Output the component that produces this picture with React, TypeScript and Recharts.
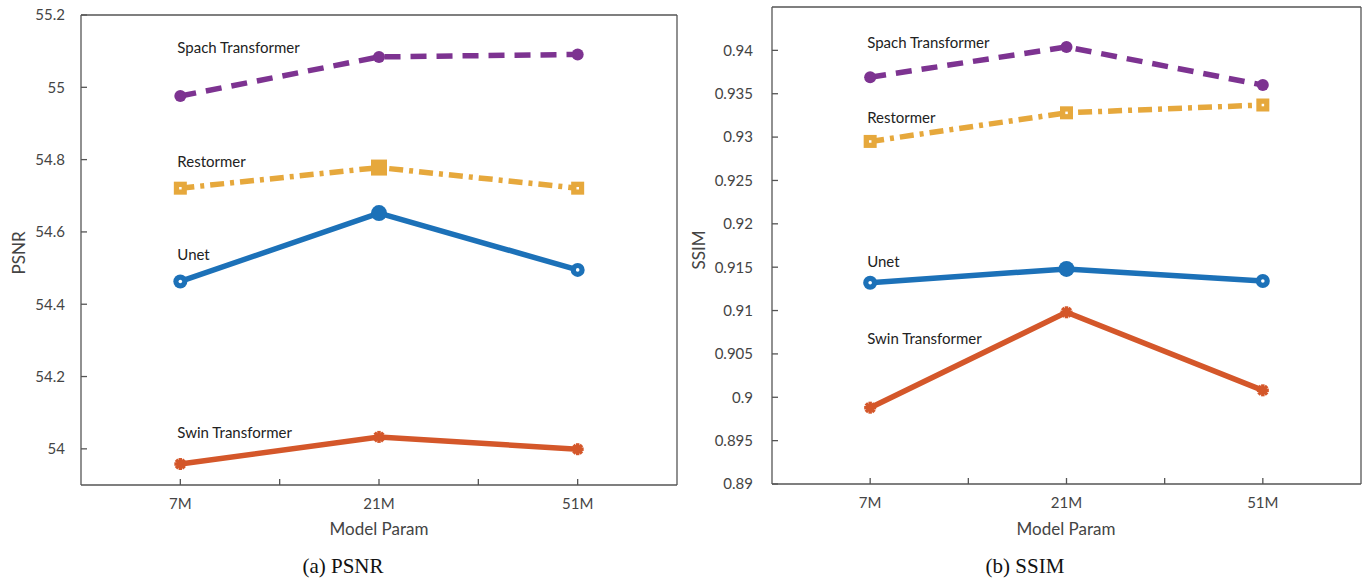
import { LineChart, Line, XAxis, YAxis, ReferenceDot } from 'recharts'

const params = ['7M', '21M', '51M']
const seriesNames = ['Spach Transformer', 'Restormer', 'Unet', 'Swin Transformer']

const psnrSpach = [54.976, 55.084, 55.091]
const psnrRestormer = [54.721, 54.778, 54.721]
const psnrUnet = [54.463, 54.652, 54.495]
const psnrSwin = [53.958, 54.033, 53.999]
const psnrTicks = [54, 54.2, 54.4, 54.6, 54.8, 55, 55.2]
const psnrLabelY = [55.109, 54.793, 54.536, 54.044]

const ssimSpach = [0.9369, 0.9404, 0.936]
const ssimRestormer = [0.9295, 0.9328, 0.9337]
const ssimUnet = [0.9132, 0.9148, 0.9134]
const ssimSwin = [0.8988, 0.9098, 0.9008]
const ssimTicks = [0.89, 0.895, 0.9, 0.905, 0.91, 0.915, 0.92, 0.925, 0.93, 0.935, 0.94]
const ssimLabelY = [0.94085, 0.9322, 0.91558, 0.90673]

const xTicks = [1, 2, 3, 4, 5]

const PURPLE = '#7d3391'
const YELLOW = '#e6a83c'
const BLUE = '#1c71b8'
const RED = '#d4572a'
const AXIS = '#555'
const FONT = 'Lato, "Open Sans", sans-serif'

// x position of each category: 1, 3, 5 on a 0..6 axis
const buildRows = (a: number[], b: number[], c: number[], d: number[]) =>
  params.map((p, i) => ({ x: i * 2 + 1, param: p, spach: a[i], restormer: b[i], unet: c[i], swin: d[i] }))

const psnrRows = buildRows(psnrSpach, psnrRestormer, psnrUnet, psnrSwin)
const ssimRows = buildRows(ssimSpach, ssimRestormer, ssimUnet, ssimSwin)

const xLabel = (v: number) => (v % 2 === 1 ? params[(v - 1) / 2] : '')
const yLabel = (v: number) => String(Number(v.toFixed(3)))

function circleDot(color: string) {
  return (p: any) => <circle key={`c${p.index}`} cx={p.cx} cy={p.cy} r={6} fill={color} />
}

function ringDot(color: string, solidIndex: number) {
  return (p: any) =>
    p.index === solidIndex ? (
      <circle key={`r${p.index}`} cx={p.cx} cy={p.cy} r={8} fill={color} />
    ) : (
      <g key={`r${p.index}`}>
        <circle cx={p.cx} cy={p.cy} r={7} fill={color} />
        <circle cx={p.cx} cy={p.cy} r={1.8} fill="#fff" />
      </g>
    )
}

function squareDot(color: string, solidIndex: number) {
  return (p: any) =>
    p.index === solidIndex ? (
      <rect key={`s${p.index}`} x={p.cx - 8} y={p.cy - 8} width={16} height={16} fill={color} />
    ) : (
      <g key={`s${p.index}`}>
        <rect x={p.cx - 6.5} y={p.cy - 6.5} width={13} height={13} fill={color} />
        <rect x={p.cx - 1.2} y={p.cy - 1.2} width={2.5} height={2.5} fill="#fff" />
      </g>
    )
}

function starDot(color: string) {
  return (p: any) => (
    <g key={`a${p.index}`} stroke={color} strokeWidth={3.5}>
      <line x1={p.cx - 6} y1={p.cy} x2={p.cx + 6} y2={p.cy} />
      <line x1={p.cx} y1={p.cy - 6} x2={p.cx} y2={p.cy + 6} />
      <line x1={p.cx - 4.3} y1={p.cy - 4.3} x2={p.cx + 4.3} y2={p.cy + 4.3} />
      <line x1={p.cx - 4.3} y1={p.cy + 4.3} x2={p.cx + 4.3} y2={p.cy - 4.3} />
    </g>
  )
}

type PanelProps = {
  rows: any[]
  ticks: number[]
  domain: [number, number]
  labelY: number[]
  restormerSolid: number
  width: number
  axisWidth: number
  top: number
  bottom: number
  right: number
  tickMargin: number
}

function Panel(props: PanelProps) {
  const { rows, ticks, domain, labelY, restormerSolid, width, axisWidth, top, bottom, right, tickMargin } = props
  const keys = ['spach', 'restormer', 'unet', 'swin']
  return (
    <LineChart width={width} height={582} data={rows} margin={{ top, right, bottom, left: 0 }}>
      <XAxis
        xAxisId="b"
        dataKey="x"
        type="number"
        domain={[0, 6]}
        ticks={xTicks}
        tickFormatter={xLabel}
        tickSize={-6}
        tickMargin={19}
        height={30}
        stroke={AXIS}
        strokeWidth={1.3}
        tick={{ fill: '#444', fontSize: 15, fontFamily: FONT }}
      />
      <XAxis
        xAxisId="t"
        orientation="top"
        dataKey="x"
        type="number"
        domain={[0, 6]}
        ticks={xTicks}
        tick={false}
        tickSize={-6}
        height={1}
        stroke={AXIS}
        strokeWidth={1.3}
      />
      <YAxis
        yAxisId="l"
        type="number"
        domain={domain}
        ticks={ticks}
        tickFormatter={yLabel}
        tickSize={-6}
        tickMargin={tickMargin}
        width={axisWidth}
        stroke={AXIS}
        strokeWidth={1.3}
        interval={0}
        tick={{ fill: '#444', fontSize: 15, fontFamily: FONT }}
      />
      <YAxis
        yAxisId="r"
        orientation="right"
        type="number"
        domain={domain}
        ticks={ticks}
        tick={false}
        tickSize={-6}
        width={1}
        stroke={AXIS}
        strokeWidth={1.3}
      />
      <Line
        xAxisId="b"
        yAxisId="l"
        dataKey="swin"
        stroke={RED}
        strokeWidth={5.5}
        dot={starDot(RED)}
        isAnimationActive={false}
      />
      <Line
        xAxisId="b"
        yAxisId="l"
        dataKey="unet"
        stroke={BLUE}
        strokeWidth={5.5}
        dot={ringDot(BLUE, 1)}
        isAnimationActive={false}
      />
      <Line
        xAxisId="b"
        yAxisId="l"
        dataKey="restormer"
        stroke={YELLOW}
        strokeWidth={5.5}
        strokeDasharray="14 6 4 6"
        dot={squareDot(YELLOW, restormerSolid)}
        isAnimationActive={false}
      />
      <Line
        xAxisId="b"
        yAxisId="l"
        dataKey="spach"
        stroke={PURPLE}
        strokeWidth={5.5}
        strokeDasharray="16 10"
        dot={circleDot(PURPLE)}
        isAnimationActive={false}
      />
      {keys.map((k, i) => (
        <ReferenceDot
          key={k}
          xAxisId="b"
          yAxisId="l"
          x={1}
          y={labelY[i]}
          r={0}
          stroke="none"
          label={{ value: seriesNames[i], position: 'right', offset: -3, fill: '#222', fontSize: 15, fontFamily: FONT }}
        />
      ))}
    </LineChart>
  )
}

const abs = (left: number, top: number): React.CSSProperties => ({ position: 'absolute', left, top })

export default function App() {
  return (
    <div style={{ position: 'absolute', left: 0, top: 0, width: 1363, height: 582, background: '#fff', overflow: 'hidden' }}>
      <div style={abs(0, 0)}>
        <Panel
          rows={psnrRows}
          ticks={psnrTicks}
          domain={[53.9, 55.2]}
          labelY={psnrLabelY}
          restormerSolid={1}
          width={690}
          axisWidth={81}
          top={14}
          bottom={67}
          right={12}
          tickMargin={22}
        />
      </div>
      <div style={abs(680, 0)}>
        <Panel
          rows={ssimRows}
          ticks={ssimTicks}
          domain={[0.89, 0.945]}
          labelY={ssimLabelY}
          restormerSolid={-1}
          width={683}
          axisWidth={92}
          top={6}
          bottom={68}
          right={1}
          tickMargin={25}
        />
      </div>
      {/* axis titles */}
      <div style={{ ...abs(379, 528), transform: 'translate(-50%, -50%)', fontFamily: FONT, fontSize: 17, color: '#444', whiteSpace: 'nowrap' }}>
        Model Param
      </div>
      <div style={{ ...abs(1066, 528), transform: 'translate(-50%, -50%)', fontFamily: FONT, fontSize: 17, color: '#444', whiteSpace: 'nowrap' }}>
        Model Param
      </div>
      <div style={{ ...abs(18, 253), transform: 'translate(-50%, -50%) rotate(-90deg)', fontFamily: FONT, fontSize: 17, color: '#444', whiteSpace: 'nowrap' }}>
        PSNR
      </div>
      <div style={{ ...abs(698, 250), transform: 'translate(-50%, -50%) rotate(-90deg)', fontFamily: FONT, fontSize: 17, color: '#444', whiteSpace: 'nowrap' }}>
        SSIM
      </div>
      {/* captions */}
      <div style={{ ...abs(343, 566), transform: 'translate(-50%, -50%)', fontFamily: '"Liberation Serif", serif', fontSize: 21, color: '#111', whiteSpace: 'nowrap' }}>
        (a) PSNR
      </div>
      <div style={{ ...abs(1025, 566), transform: 'translate(-50%, -50%)', fontFamily: '"Liberation Serif", serif', fontSize: 21, color: '#111', whiteSpace: 'nowrap' }}>
        (b) SSIM
      </div>
    </div>
  )
}
